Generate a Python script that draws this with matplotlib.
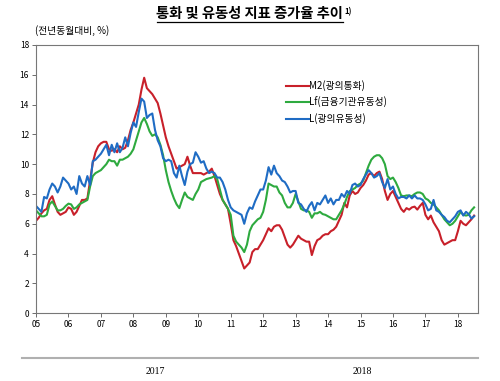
import numpy as np
import matplotlib
matplotlib.use("Agg")
import matplotlib.pyplot as plt
from matplotlib.lines import Line2D

plt.rcParams['font.family'] = ['Noto Sans CJK KR', 'DejaVu Sans']

# monthly growth rates (yoy, %), Jan 2005 - Jul 2018
m2 = [
    6.2, 6.4, 6.7, 6.9, 7.0, 7.6, 7.85, 7.3, 6.8, 6.6, 6.7, 6.8,      # 2005
    7.1, 7.0, 6.6, 6.8, 7.2, 7.6, 7.6, 7.7, 8.9, 10.1, 10.8, 11.2,    # 2006
    11.4, 11.5, 11.5, 11.0, 10.9, 11.0, 10.8, 11.2, 11.0, 11.1, 11.6, 12.3,  # 2007
    12.8, 13.4, 14.0, 15.0, 15.8, 15.1, 14.9, 14.7, 14.4, 14.1, 13.4, 12.6,  # 2008
    11.8, 11.2, 10.7, 10.2, 9.7, 9.8, 9.9, 10.0, 10.5, 9.9, 9.4, 9.4,  # 2009
    9.4, 9.4, 9.3, 9.4, 9.5, 9.7, 9.2, 8.6, 8.0, 7.6, 7.3, 7.0,        # 2010
    6.0, 4.9, 4.5, 4.0, 3.5, 3.0, 3.2, 3.4, 4.1, 4.3, 4.3, 4.6,        # 2011
    4.9, 5.3, 5.7, 5.5, 5.8, 5.9, 5.9, 5.6, 5.1, 4.6, 4.4, 4.6,        # 2012
    4.9, 5.2, 5.0, 4.9, 4.8, 4.8, 3.9, 4.5, 4.9, 5.0, 5.2, 5.3,        # 2013
    5.3, 5.5, 5.6, 5.8, 6.2, 6.6, 7.4, 7.1, 7.9, 8.2, 8.0, 8.1,        # 2014
    8.4, 8.6, 8.9, 9.3, 9.4, 9.2, 9.4, 9.5, 9.0, 8.2, 7.6, 8.0,        # 2015
    8.2, 7.8, 7.4, 7.0, 6.8, 7.05, 6.95, 7.1, 7.15, 6.95, 7.2, 7.4,    # 2016
    6.6, 6.3, 6.55, 6.1, 5.8, 5.5, 4.9, 4.6, 4.7, 4.8, 4.9, 4.9,       # 2017
    5.5, 6.2, 6.0, 5.9, 6.1, 6.3, 6.55,                                # 2018
]
lf = [
    6.9, 6.7, 6.5, 6.5, 6.6, 7.3, 7.5, 7.2, 6.9, 6.9, 7.0, 7.2,
    7.35, 7.3, 7.0, 7.1, 7.3, 7.4, 7.5, 7.6, 8.5, 9.2, 9.4, 9.5,
    9.6, 9.8, 10.0, 10.3, 10.2, 10.2, 9.9, 10.3, 10.3, 10.4, 10.5, 10.7,
    11.0, 11.6, 12.2, 12.8, 13.1, 12.7, 12.2, 11.9, 12.0, 11.8, 11.3, 10.6,
    9.6, 8.8, 8.2, 7.7, 7.3, 7.05, 7.6, 8.1, 7.8, 7.7, 7.6, 8.0,
    8.3, 8.8, 8.9, 9.0, 9.05, 9.1, 9.2, 9.0, 8.3, 7.6, 7.3, 7.0,
    6.6, 5.2, 4.8, 4.6, 4.4, 4.1, 4.6, 5.5, 5.9, 6.1, 6.3, 6.4,
    6.8, 7.6, 8.7, 8.6, 8.5, 8.5, 8.1, 7.9, 7.4, 7.1, 7.1, 7.4,
    8.0, 7.5, 7.0, 6.9, 6.9, 6.8, 6.4, 6.7, 6.7, 6.8, 6.65, 6.6,
    6.5, 6.4, 6.3, 6.3, 6.6, 6.9, 7.3, 7.8, 8.2, 8.3, 8.4, 8.6,
    8.7, 8.9, 9.4, 9.9, 10.3, 10.5, 10.6, 10.6, 10.4, 10.0, 9.2, 9.0,
    9.1, 8.8, 8.4, 7.9, 7.85, 7.9, 7.9, 7.85, 8.0, 8.1, 8.1, 8.0,
    7.7, 7.6, 7.4, 7.3, 7.1, 6.9, 6.6, 6.3, 6.1, 5.9, 6.0, 6.2,
    6.5, 6.8, 6.6, 6.55, 6.6, 6.9, 7.1,
]
l = [
    7.2, 7.0, 6.8, 7.8, 7.7, 8.3, 8.7, 8.5, 8.1, 8.5, 9.1, 8.9,
    8.7, 8.3, 8.5, 8.0, 9.2, 8.7, 8.5, 9.2, 8.6, 10.2, 10.3, 10.5,
    10.7, 11.0, 11.3, 10.6, 11.3, 10.8, 11.4, 10.8, 11.1, 11.8, 11.2, 12.1,
    12.8, 12.5, 13.5, 14.4, 14.2, 13.1, 13.3, 13.4, 12.3, 11.6, 11.2, 10.4,
    10.2, 10.3, 10.2, 9.4, 9.1, 9.9, 9.2, 8.6, 9.5, 10.0, 10.1, 10.8,
    10.5, 10.1, 10.2, 9.7, 9.4, 9.5, 9.4, 9.1, 9.1, 8.8, 8.3, 7.6,
    7.1, 6.9, 6.8, 6.7, 6.6, 6.0, 6.7, 7.1, 7.0, 7.5, 7.9, 8.3,
    8.3, 8.9, 9.8, 9.3, 9.9, 9.4, 9.2, 8.9, 8.8, 8.5, 8.1, 8.2,
    8.2, 7.4, 7.3, 7.0, 6.8, 7.2, 7.45, 6.9, 7.4, 7.3, 7.6, 7.9,
    7.4, 7.7, 7.3, 7.6, 7.6, 8.0, 7.8, 8.2, 8.0, 8.6, 8.7, 8.5,
    8.6, 9.0, 9.3, 9.6, 9.4, 9.1, 9.2, 9.4, 8.8, 8.4, 9.0, 8.3,
    8.5, 8.0, 7.7, 7.8, 7.8, 7.7, 7.9, 7.7, 7.9, 7.7, 7.7, 7.6,
    7.3, 6.9, 7.0, 7.6, 6.9, 6.8, 6.6, 6.45, 6.2, 6.1, 6.3, 6.5,
    6.8, 6.9, 6.55, 6.8, 6.65, 6.35, 6.5,
]
labels = ['M2(광의통화)', 'Lf(금융기관유동성)', 'L(광의유동성)']
colors = ['#c8202a', '#2eaa3f', '#1f6cc4']
years = list(range(2005, 2019))
year_labels = ['%02d' % (y % 100) for y in years]

t = 2005 + np.arange(len(m2)) / 12.0

fig = plt.figure(figsize=(5.0, 3.81), dpi=100)
ax = fig.add_axes([0.072, 0.178, 0.884, 0.704])

for s, lab, c in zip([m2, lf, l], labels, colors):
    ax.plot(t, s, color=c, lw=1.5, label=lab)

ax.set_xlim(2005, 2018.62)
ax.set_ylim(0, 18)
ax.set_yticks(range(0, 19, 2))
ax.set_xticks(years)
ax.set_xticklabels(year_labels)
ax.tick_params(labelsize=6, length=3, width=0.6, color='#555555', pad=2)
for sp in ax.spines.values():
    sp.set_color('#777777')
    sp.set_linewidth(0.8)

leg = ax.legend(loc='upper left', bbox_to_anchor=(0.545, 0.9), frameon=False,
                fontsize=7, handlelength=2.4, handletextpad=0.0,
                labelspacing=0.55)

# title with underline and footnote mark
fig.text(0.686, 0.952, '통화 및 유동성 지표 증가율 추이', ha='right', va='baseline',
         fontsize=10.3, fontweight='bold')
fig.text(0.689, 0.962, '1)', ha='left', va='baseline', fontsize=5.5, fontweight='bold')
fig.add_artist(Line2D([0.314, 0.686], [0.943, 0.943], color='black', lw=0.9))
fig.text(0.07, 0.905, '(전년동월대비, %)', ha='left', va='bottom', fontsize=7)

# page rule and year captions under the chart
fig.add_artist(Line2D([0.044, 0.956], [0.06, 0.06], color='#b0b0b0', lw=1.5))
fig.text(0.31, 0.025, '2017', ha='center', va='center', fontsize=7,
         family='Liberation Serif')
fig.text(0.724, 0.025, '2018', ha='center', va='center', fontsize=7,
         family='Liberation Serif')

fig.savefig('out.png', dpi=100)
